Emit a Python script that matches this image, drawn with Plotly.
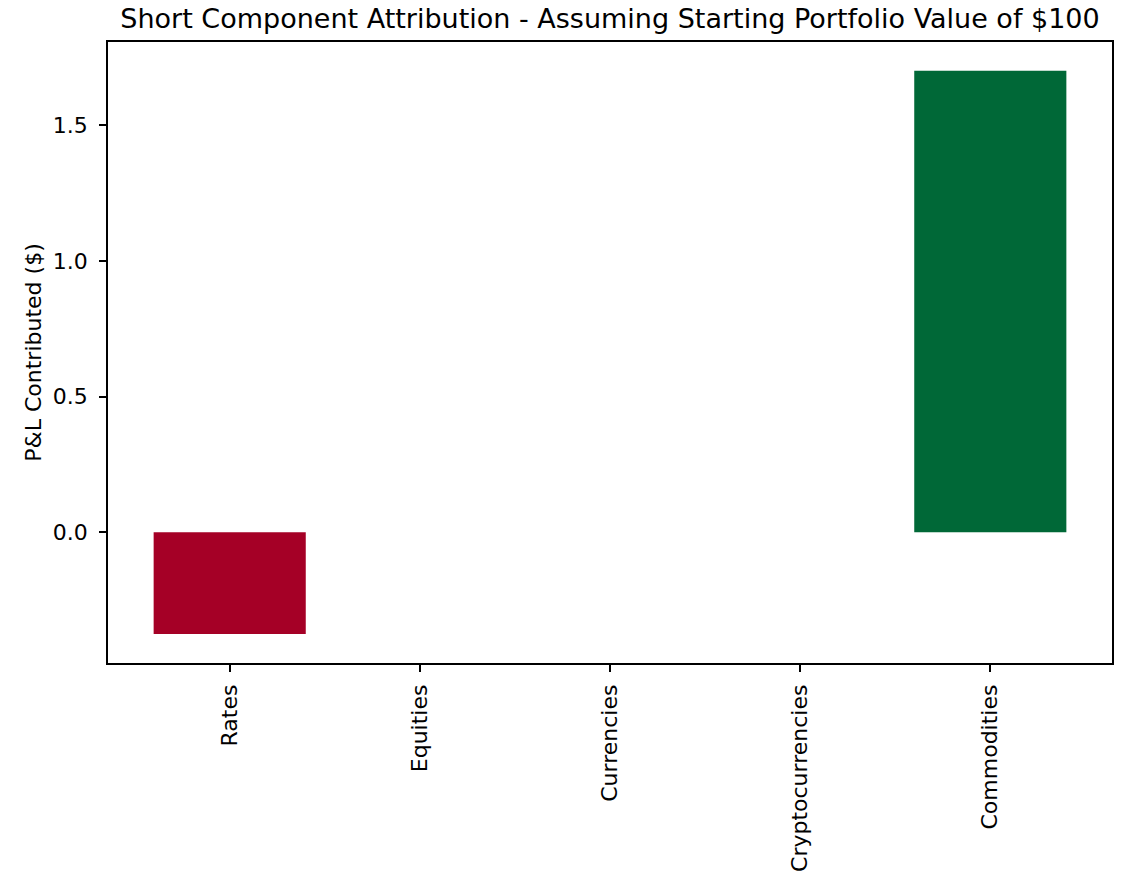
import plotly.graph_objects as go

categories = ["Rates", "Equities", "Currencies", "Cryptocurrencies", "Commodities"]
pnl = [-0.375, 0.0, 0.0, 0.0, 1.70]
bar_colors = ["#a50026", "#ffffbf", "#ffffbf", "#ffffbf", "#006837"]

W, H = 1125, 875

fig = go.Figure(go.Bar(
    x=list(range(len(categories))),
    y=pnl,
    width=0.8,
    marker=dict(color=bar_colors, line=dict(width=0)),
))

font = "DejaVu Sans, sans-serif"
fig.update_layout(
    width=W, height=H,
    paper_bgcolor="white", plot_bgcolor="white",
    margin=dict(l=108, r=13, t=42, b=212, pad=0),
    showlegend=False,
    title=dict(text="Short Component Attribution - Assuming Starting Portfolio Value of $100",
               x=0.5, xref="paper", xanchor="center", y=1 - 19 / H, yanchor="middle",
               font=dict(family=font, size=27, color="black")),
    font=dict(family=font, size=22, color="black"),
)
fig.update_xaxes(
    tickmode="array", tickvals=list(range(len(categories))), ticktext=categories,
    tickangle=-90, range=[-0.64, 4.64], automargin=False,
    showline=True, linecolor="black", linewidth=1.5, mirror=True,
    ticks="outside", ticklen=7, tickwidth=1.5, tickcolor="black",
    ticklabelstandoff=4,
    showgrid=False, zeroline=False,
    tickfont=dict(family=font, size=22, color="black"),
)
fig.update_yaxes(
    tickmode="array", tickvals=[0.0, 0.5, 1.0, 1.5], ticktext=["0.0", "0.5", "1.0", "1.5"],
    range=[-0.4816, 1.806], automargin=False,
    showline=True, linecolor="black", linewidth=1.5, mirror=True,
    ticks="outside", ticklen=7, tickwidth=1.5, tickcolor="black",
    ticklabelstandoff=7,
    showgrid=False, zeroline=False,
    tickfont=dict(family=font, size=22, color="black"),
    title=dict(text="P&L Contributed ($)", font=dict(family=font, size=22, color="black"), standoff=5),
)
fig.write_html("out.html", config={"displayModeBar": False},
               post_script="document.body.style.margin='0px';")
